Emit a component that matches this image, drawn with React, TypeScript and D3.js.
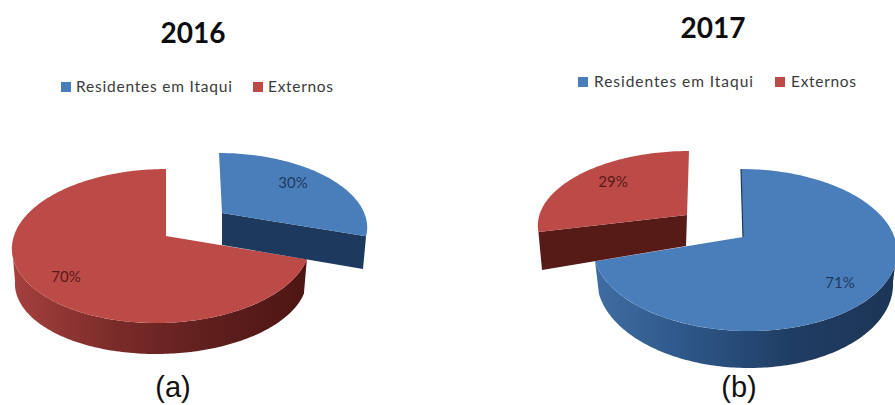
import React from "react";
import * as d3 from "d3";

// Shares per year, in percent, in clockwise order from twelve o'clock.
const categories = ["Residentes em Itaqui", "Externos"];
const shares2016 = [30, 70];
const shares2017 = [71, 29];
const years = ["2016", "2017"];
const captions = ["(a)", "(b)"];

const FACE = ["#4a7ebb", "#bc4b48"];
const CUT = ["#1d3a5e", "#561a17"];
const RIM_STOPS = [
  ["#3f6da3", "#2c5585", "#1f3c62", "#1c3556"],
  ["#a5403d", "#7c2c2a", "#5f1f1d", "#4d1613"],
];
const LABEL_INK = ["#1f3a62", "#571a18"];

type Ellipse = { cx: number; cy: number; rx: number; ry: number; lean: number };
type Pt = [number, number];

const onRim = (e: Ellipse, a: number): Pt => [
  e.cx + e.rx * Math.sin(a) + e.lean * Math.cos(a),
  e.cy - e.ry * Math.cos(a),
];

const line = d3.line<Pt>().x((d) => d[0]).y((d) => d[1]);

const sweep = (e: Ellipse, a0: number, a1: number): Pt[] => {
  const n = Math.max(2, Math.ceil(Math.abs(a1 - a0) / 0.02));
  return d3.range(n + 1).map((i) => onRim(e, a0 + ((a1 - a0) * i) / n));
};

const rad = d3.scaleLinear().domain([0, 360]).range([0, 2 * Math.PI]);

type Layout = {
  title: [number, number];
  caption: [number, number];
  swatchY: number;
  legendX: [number, number, number, number];
  legendEnd: [number, number];
  main: number;
  mainTop: Ellipse;
  mainBase: Ellipse;
  mainApex: Pt;
  bottomClip: number;
  loose: Ellipse;
  looseApex: Pt;
  looseApexFoot: Pt;
  looseEndFoot: Pt;
  // Foreshortening of the shared slice boundary under the tilted view, in degrees.
  twist: number;
  labels: [Pt, Pt];
};

const layouts: Layout[] = [
  {
    title: [193, 43],
    caption: [173, 397],
    swatchY: 82,
    legendX: [61, 76, 253, 268],
    legendEnd: [232, 333],
    main: 1,
    mainTop: { cx: 161, cy: 246, rx: 149, ry: 77, lean: 5 },
    mainBase: { cx: 161, cy: 281, rx: 146, ry: 73, lean: 5 },
    mainApex: [166, 236],
    bottomClip: 355,
    loose: { cx: 226, cy: 224, rx: 141, ry: 71, lean: -7 },
    looseApex: [222, 213],
    looseApexFoot: [222, 245],
    looseEndFoot: [363, 269],
    twist: -8,
    labels: [[293, 183], [66, 277]],
  },
  {
    title: [713, 38],
    caption: [739, 397],
    swatchY: 77,
    legendX: [578, 594, 775, 791],
    legendEnd: [753, 856],
    main: 0,
    mainTop: { cx: 745, cy: 250, rx: 152, ry: 81, lean: -4 },
    mainBase: { cx: 745, cy: 282, rx: 148, ry: 86, lean: -4 },
    mainApex: [743, 237],
    bottomClip: 405,
    loose: { cx: 682, cy: 222, rx: 144, ry: 71, lean: 7 },
    looseApex: [687, 215],
    looseApexFoot: [686, 246],
    looseEndFoot: [542, 270],
    twist: 6.4,
    labels: [[840, 283], [613, 182]],
  },
];

const pie = d3.pie<number>().sort(null);

function Panel({ shares, year, caption, layout, id }: {
  shares: number[];
  year: string;
  caption: string;
  layout: Layout;
  id: string;
}) {
  const slices = pie(shares);
  const m = layout.main;
  const l = 1 - m;
  const boundary = slices[0].endAngle + rad(layout.twist);
  const mainFrom = m === 0 ? 0 : boundary;
  const mainTo = m === 0 ? boundary : 2 * Math.PI;
  const looseFrom = l === 0 ? 0 : boundary;
  const looseTo = l === 0 ? boundary : 2 * Math.PI;

  // Main slice: the rim is seen only along the near half of the ellipse.
  const topPts: Pt[] = [layout.mainApex, ...sweep(layout.mainTop, mainFrom, mainTo)];
  const rimFrom = Math.max(mainFrom, Math.PI / 2);
  const rimTo = Math.min(mainTo, (3 * Math.PI) / 2);
  const rimPts: Pt[] = [
    ...sweep(layout.mainTop, rimFrom, rimTo),
    ...sweep(layout.mainBase, rimTo, rimFrom),
  ];
  const xs = rimPts.map((p) => p[0]);
  const [gx0, gx1] = d3.extent(xs) as [number, number];

  // Pulled-out slice: top face plus its front cut.
  const looseTop: Pt[] = [layout.looseApex, ...sweep(layout.loose, looseFrom, looseTo)];
  const cutPts: Pt[] = [
    layout.looseApex,
    onRim(layout.loose, boundary),
    layout.looseEndFoot,
    layout.looseApexFoot,
  ];

  return (
    <g>
      <text x={layout.title[0]} y={layout.title[1]} textAnchor="middle" fontFamily="Lato, sans-serif"
        fontWeight={700} fontSize={28} fill="#0d0d0d">{year}</text>
      {categories.map((c, i) => (
        <g key={c}>
          <rect x={layout.legendX[i * 2]} y={layout.swatchY} width={10} height={10} fill={FACE[i]} />
          <text x={layout.legendX[i * 2 + 1]} y={layout.swatchY + 10} fontFamily="Lato, sans-serif" fontSize={15.5}
            fill="#3a3a3a" textLength={layout.legendEnd[i] - layout.legendX[i * 2 + 1]} lengthAdjust="spacing">{c}</text>
        </g>
      ))}
      <clipPath id={`${id}-clip`}>
        <rect x={0} y={0} width={895} height={layout.bottomClip} />
      </clipPath>
      <linearGradient id={`${id}-rim`} gradientUnits="userSpaceOnUse" x1={gx0} x2={gx1} y1={0} y2={0}>
        {RIM_STOPS[m].map((c, i) => (
          <stop key={i} offset={i / (RIM_STOPS[m].length - 1)} stopColor={c} />
        ))}
      </linearGradient>
      <path d={line(rimPts)! + "Z"} fill={`url(#${id}-rim)`} clipPath={`url(#${id}-clip)`} />
      <path d={line(topPts)! + "Z"} fill={FACE[m]} />
      {m === 0 && (
        <path d={line([layout.mainApex, onRim(layout.mainTop, 0)])!} stroke={CUT[0]} strokeWidth={1.2} fill="none" />
      )}
      <text x={layout.labels[m][0]} y={layout.labels[m][1]} dy="0.35em" textAnchor="middle"
        fontFamily="Lato, sans-serif" fontSize={15} fill={LABEL_INK[m]}>{shares[m]}%</text>
      <path d={line(cutPts)! + "Z"} fill={CUT[l]} />
      <path d={line(looseTop)! + "Z"} fill={FACE[l]} />
      <text x={layout.labels[l][0]} y={layout.labels[l][1]} dy="0.35em" textAnchor="middle"
        fontFamily="Lato, sans-serif" fontSize={15} fill={LABEL_INK[l]}>{shares[l]}%</text>
      <text x={layout.caption[0]} y={layout.caption[1]} textAnchor="middle"
        fontFamily="'Liberation Sans', Arial, sans-serif" fontSize={29} fill="#111">{caption}</text>
    </g>
  );
}

export default function App() {
  return (
    <svg width={895} height={405} viewBox="0 0 895 405"
      style={{ position: "absolute", left: 0, top: 0, background: "#fff", display: "block" }}>
      <Panel id="y16" shares={shares2016} year={years[0]} caption={captions[0]} layout={layouts[0]} />
      <Panel id="y17" shares={shares2017} year={years[1]} caption={captions[1]} layout={layouts[1]} />
    </svg>
  );
}
